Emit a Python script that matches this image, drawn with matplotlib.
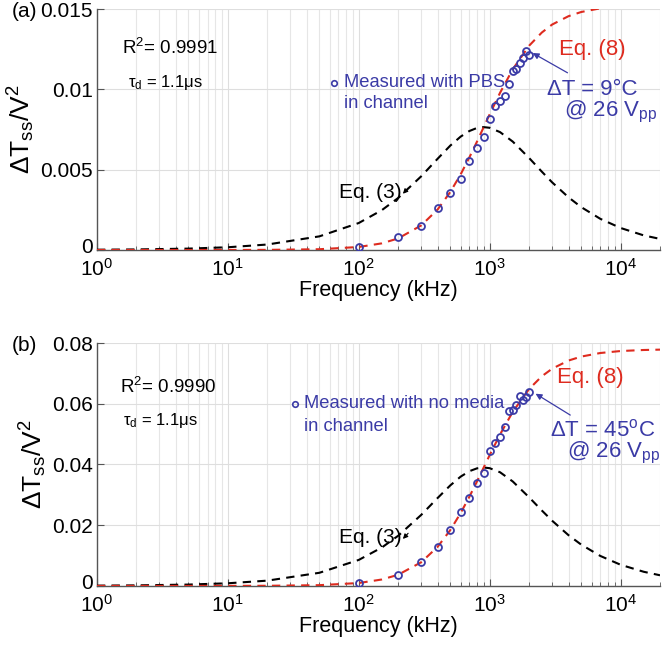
import numpy as np
import matplotlib
matplotlib.use("Agg")
import matplotlib.pyplot as plt
from matplotlib.ticker import NullFormatter, LogLocator
from matplotlib.transforms import ScaledTranslation

plt.rcParams['font.family'] = ['Liberation Sans', 'DejaVu Sans']
plt.rcParams['mathtext.fontset'] = 'custom'
plt.rcParams['mathtext.rm'] = 'Liberation Sans'
plt.rcParams['mathtext.it'] = 'Liberation Sans:italic'
plt.rcParams['mathtext.bf'] = 'Liberation Sans:bold'

# model curve frequencies (kHz)
f_model = [1, 2, 5, 10, 20, 50, 100, 150, 200, 300, 400, 500, 600, 700, 800, 900,
           1000, 1200, 1500, 2000, 2500, 3000, 4000, 5000, 7000, 10000, 15000, 20000]

# panel (a): PBS in channel
eq8_a = [0, 0, 4.7e-7, 1.9e-6, 7.5e-6, 4.7e-5, 1.87e-4, 4.13e-4, 7.2e-4, 1.53e-3, 2.52e-3,
         3.61e-3, 4.71e-3, 5.77e-3, 6.75e-3, 7.65e-3, 8.45e-3, 9.79e-3, 1.125e-2, 1.272e-2,
         1.354e-2, 1.404e-2, 1.456e-2, 1.482e-2, 1.505e-2, 1.518e-2, 1.524e-2, 1.527e-2]
eq3_a = [1.7e-5, 3.4e-5, 8.5e-5, 1.70e-4, 3.40e-4, 8.48e-4, 1.68e-3, 2.48e-3, 3.24e-3,
         4.59e-3, 5.68e-3, 6.50e-3, 7.06e-3, 7.41e-3, 7.60e-3, 7.65e-3, 7.61e-3, 7.34e-3,
         6.75e-3, 5.73e-3, 4.88e-3, 4.21e-3, 3.28e-3, 2.67e-3, 1.94e-3, 1.37e-3, 9.1e-4, 6.9e-4]
f_meas_a = [100, 200, 300, 400, 500, 600, 700, 800, 900, 1000, 1100, 1200, 1300, 1400,
            1500, 1600, 1700, 1800, 1900, 2000]
meas_a = [0.0002, 0.00078, 0.0015, 0.0026, 0.00352, 0.00439, 0.00555, 0.00634, 0.00703,
          0.00817, 0.00894, 0.00925, 0.00959, 0.01035, 0.01116, 0.01124, 0.01165, 0.01195,
          0.0124, 0.01212]

# panel (b): no media in channel
eq8_b = [0, 0, 2.3e-6, 9.4e-6, 3.8e-5, 2.42e-4, 9.5e-4, 2.11e-3, 3.67e-3, 7.8e-3, 1.286e-2,
         1.839e-2, 2.40e-2, 2.94e-2, 3.443e-2, 3.90e-2, 4.31e-2, 4.99e-2, 5.735e-2, 6.486e-2,
         6.905e-2, 7.156e-2, 7.424e-2, 7.555e-2, 7.673e-2, 7.738e-2, 7.772e-2, 7.784e-2]
eq3_b = [8.7e-5, 1.73e-4, 4.34e-4, 8.66e-4, 1.73e-3, 4.32e-3, 8.56e-3, 1.265e-2, 1.652e-2,
         2.34e-2, 2.895e-2, 3.311e-2, 3.60e-2, 3.78e-2, 3.873e-2, 3.90e-2, 3.878e-2, 3.744e-2,
         3.441e-2, 2.919e-2, 2.486e-2, 2.147e-2, 1.671e-2, 1.360e-2, 9.87e-3, 6.96e-3, 4.66e-3, 3.50e-3]
f_meas_b = [100, 200, 300, 400, 500, 600, 700, 800, 900, 1000, 1100, 1200, 1300, 1400,
            1500, 1600, 1700, 1800, 1900, 2000]
meas_b = [0.001, 0.0035, 0.0078, 0.0128, 0.01836, 0.02436, 0.02895, 0.03387, 0.03728,
          0.04459, 0.04721, 0.04918, 0.05223, 0.05748, 0.05793, 0.05944, 0.06262, 0.06131,
          0.0623, 0.06393]

yticks_a = [0, 0.005, 0.01, 0.015]
yticklabels_a = ['0', '0.005', '0.01', '0.015']
yticks_b = [0, 0.02, 0.04, 0.06, 0.08]
yticklabels_b = ['0', '0.02', '0.04', '0.06', '0.08']
xticks = [1, 10, 100, 1000, 10000]
xticklabels = [r'$10^0$', r'$10^1$', r'$10^2$', r'$10^3$', r'$10^4$']

BLUE = '#3b3ba6'
RED = '#de2b1f'

fig = plt.figure(figsize=(6.64, 6.51), dpi=100)
ax_a = fig.add_axes([0.146, 0.616, 0.848, 0.370])
ax_b = fig.add_axes([0.146, 0.100, 0.848, 0.373])


def style(ax, yticks, ylabels, ymax):
    ax.set_xscale('log')
    ax.set_xlim(1, 2e4)
    ax.set_ylim(0, ymax)
    ax.set_xticks(xticks)
    ax.set_xticklabels(xticklabels)
    ax.xaxis.set_minor_locator(LogLocator(base=10, subs=np.arange(2, 10)))
    ax.xaxis.set_minor_formatter(NullFormatter())
    ax.set_yticks(yticks)
    ax.set_yticklabels(ylabels)
    ax.grid(True, which='major', color='#dedede', lw=0.8)
    ax.grid(True, which='minor', axis='x', color='#e6e6e6', lw=0.8)
    ax.set_axisbelow(True)
    for s in ['top', 'right']:
        ax.spines[s].set_visible(False)
    for s in ['left', 'bottom']:
        ax.spines[s].set_color('#555555')
        ax.spines[s].set_linewidth(1.0)
    ax.tick_params(direction='in', which='major', length=5, labelsize=15, colors='#555555',
                   labelcolor='black', pad=3)
    ax.tick_params(axis='x', which='major', pad=6)
    ax.tick_params(direction='in', which='minor', length=3, colors='#555555')
    ax.set_xlabel('Frequency (kHz)', fontsize=15.5, labelpad=0)
    ax.set_ylabel(r'$\Delta\mathrm{T}_{\mathrm{ss}}/\mathrm{V}^2$', fontsize=19, labelpad=2)
    # nudge the "0" label up a little so it clears the 10^0 label
    lab0 = ax.get_yticklabels()[0]
    lab0.set_transform(lab0.get_transform() + ScaledTranslation(0, 3 / 72, fig.dpi_scale_trans))


def panel(ax, eq8, eq3, fm, mv):
    ax.plot(f_model, eq3, color='black', ls=(0, (4, 3)), lw=1.5, zorder=3)
    ax.plot(f_model, eq8, color=RED, ls=(0, (4, 3)), lw=1.5, zorder=3)
    ax.plot(fm, mv, ls='none', marker='o', ms=5, mfc='none', mec=BLUE, mew=1.3, zorder=4)


# panel (a)
style(ax_a, yticks_a, yticklabels_a, 0.015)
panel(ax_a, eq8_a, eq3_a, f_meas_a, meas_a)
ax_a.text(0.044, 0.837, r'R$^2$= 0.9991', transform=ax_a.transAxes, fontsize=13.5, va='center')
ax_a.text(0.055, 0.695, r'τ$_\mathrm{d}$ = 1.1μs', transform=ax_a.transAxes, fontsize=12, va='center')
ax_a.plot([0.421], [0.695], transform=ax_a.transAxes, marker='o', ms=4, mfc='none', mec=BLUE, mew=1.2, clip_on=False)
ax_a.text(0.438, 0.695, 'Measured with PBS', transform=ax_a.transAxes, fontsize=13.2, color=BLUE, va='center')
ax_a.text(0.438, 0.610, 'in channel', transform=ax_a.transAxes, fontsize=13.2, color=BLUE, va='center')
ax_a.annotate('', xy=(2040, 0.01235), xytext=(4100, 0.01095),
              arrowprops=dict(arrowstyle='-|>', color=BLUE, lw=0.9, mutation_scale=9))
ax_a.text(0.80, 0.667, 'ΔT = 9°C', transform=ax_a.transAxes, fontsize=16, color=BLUE, va='center')
ax_a.text(0.83, 0.573, r'@ 26 V$_\mathrm{pp}$', transform=ax_a.transAxes, fontsize=16, color=BLUE, va='center')
ax_a.text(0.82, 0.833, 'Eq. (8)', transform=ax_a.transAxes, fontsize=16, color=RED, va='center')
ax_a.text(0.43, 0.24, 'Eq. (3)', transform=ax_a.transAxes, fontsize=15, color='black', va='center')
ax_a.annotate('', xy=(0.540, 0.225), xytext=(0.556, 0.265), xycoords='axes fraction',
              arrowprops=dict(arrowstyle='-|>', color='black', lw=0.8, mutation_scale=7))
fig.text(0.018, 0.982, '(a)', fontsize=15, va='center')

# panel (b)
style(ax_b, yticks_b, yticklabels_b, 0.08)
panel(ax_b, eq8_b, eq3_b, f_meas_b, meas_b)
ax_b.text(0.041, 0.819, r'R$^2$= 0.9990', transform=ax_b.transAxes, fontsize=13.5, va='center')
ax_b.text(0.046, 0.683, r'τ$_\mathrm{d}$ = 1.1μs', transform=ax_b.transAxes, fontsize=12, va='center')
ax_b.plot([0.352], [0.750], transform=ax_b.transAxes, marker='o', ms=4, mfc='none', mec=BLUE, mew=1.2, clip_on=False)
ax_b.text(0.368, 0.750, 'Measured with no media', transform=ax_b.transAxes, fontsize=13.2, color=BLUE, va='center')
ax_b.text(0.368, 0.655, 'in channel', transform=ax_b.transAxes, fontsize=13.2, color=BLUE, va='center')
ax_b.annotate('', xy=(2150, 0.0638), xytext=(4300, 0.0558),
              arrowprops=dict(arrowstyle='-|>', color=BLUE, lw=0.9, mutation_scale=9))
ax_b.text(0.805, 0.642, r'ΔT = 45$^\mathrm{o}$C', transform=ax_b.transAxes, fontsize=16, color=BLUE, va='center')
ax_b.text(0.835, 0.547, r'@ 26 V$_\mathrm{pp}$', transform=ax_b.transAxes, fontsize=16, color=BLUE, va='center')
ax_b.text(0.817, 0.86, 'Eq. (8)', transform=ax_b.transAxes, fontsize=16, color=RED, va='center')
ax_b.text(0.43, 0.20, 'Eq. (3)', transform=ax_b.transAxes, fontsize=15, color='black', va='center')
ax_b.annotate('', xy=(0.540, 0.185), xytext=(0.556, 0.225), xycoords='axes fraction',
              arrowprops=dict(arrowstyle='-|>', color='black', lw=0.8, mutation_scale=7))
fig.text(0.018, 0.470, '(b)', fontsize=15, va='center')

fig.savefig('out.png', dpi=100)
